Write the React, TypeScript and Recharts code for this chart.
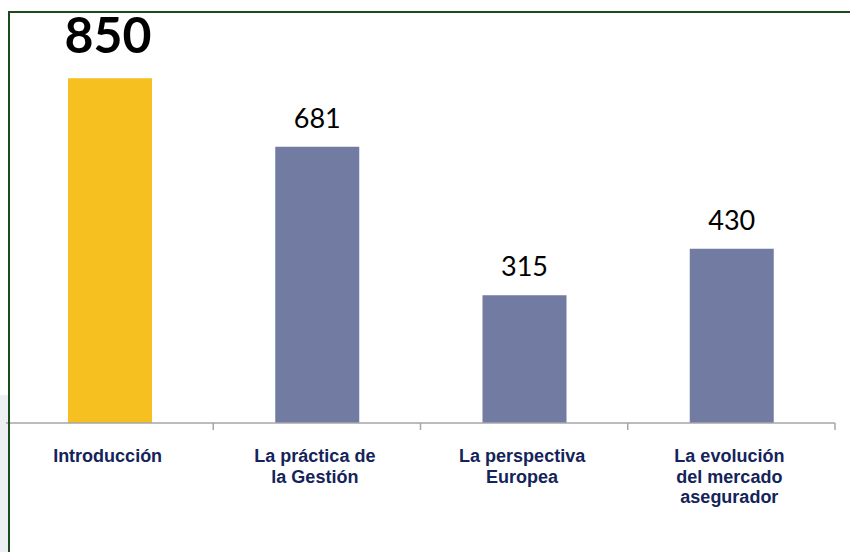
import { Bar, BarChart, Cell, LabelList, XAxis, YAxis } from "recharts";

const categories = [
  "Introducción",
  "La práctica de\nla Gestión",
  "La perspectiva\nEuropea",
  "La evolución\ndel mercado\nasegurador",
];
const values = [850, 681, 315, 430];
const barColors = ["#F6C120", "#727BA2", "#727BA2", "#727BA2"];

const data = categories.map((name, i) => ({ name, value: values[i] }));

const W = 850;
const H = 552;
const LEFT = 6;
const RIGHT = 15;
const BAND = (W - LEFT - RIGHT) / categories.length;

function CategoryTick(props: any) {
  const { x, y, payload } = props;
  const lines = String(payload.value).split("\n");
  return (
    <g>
      <line x1={x + BAND / 2} y1={y - 8} x2={x + BAND / 2} y2={y - 1} stroke="#a6a6a6" strokeWidth={1.5} />
      <text
        x={x - 2}
        y={y + 31}
        textAnchor="middle"
        fill="#14245a"
        style={{ fontFamily: "Liberation Sans, Arial, sans-serif", fontWeight: 700, fontSize: 18 }}
      >
        {lines.map((l, i) => (
          <tspan key={i} x={x - 2} dy={i === 0 ? 0 : 20.5}>
            {l}
          </tspan>
        ))}
      </text>
    </g>
  );
}

function ValueLabel(props: any) {
  const { x, y, width, value, index } = props;
  const big = index === 0;
  return (
    <text
      x={x + width / 2 - (big ? 2 : 0)}
      y={y - (big ? 25 : 19)}
      textAnchor="middle"
      fill="#000"
      fontFamily="Lato, sans-serif"
      fontWeight={big ? "bold" : "normal"}
      fontSize={big ? 50 : 27}
    >
      {value}
    </text>
  );
}

export default function App() {
  return (
    <div style={{ position: "absolute", left: 0, top: 0, width: W, height: H, background: "#fff", overflow: "hidden" }}>
      <div style={{ position: "absolute", left: 0, top: 395, width: 8, height: H - 395, background: "#eceff4" }} />
      <BarChart
        width={W}
        height={H}
        data={data}
        margin={{ top: 17.5, right: RIGHT, bottom: 0, left: LEFT }}
        barSize={84}
      >
        <YAxis hide domain={[0, 1000]} />
        <XAxis
          dataKey="name"
          height={129}
          interval={0}
          tickLine={false}
          axisLine={{ stroke: "#a6a6a6", strokeWidth: 1.5 }}
          tick={<CategoryTick />}
        />
        <Bar dataKey="value" isAnimationActive={false}>
          {data.map((d, i) => (
            <Cell key={d.name} fill={barColors[i]} />
          ))}
          <LabelList dataKey="value" content={<ValueLabel />} />
        </Bar>
      </BarChart>
      <div style={{ position: "absolute", left: 8, top: 11, width: W - 8, height: 2, background: "#1c4a1c" }} />
      <div style={{ position: "absolute", left: 8, top: 11, width: 2, height: H - 11, background: "#1c4a1c" }} />
    </div>
  );
}
